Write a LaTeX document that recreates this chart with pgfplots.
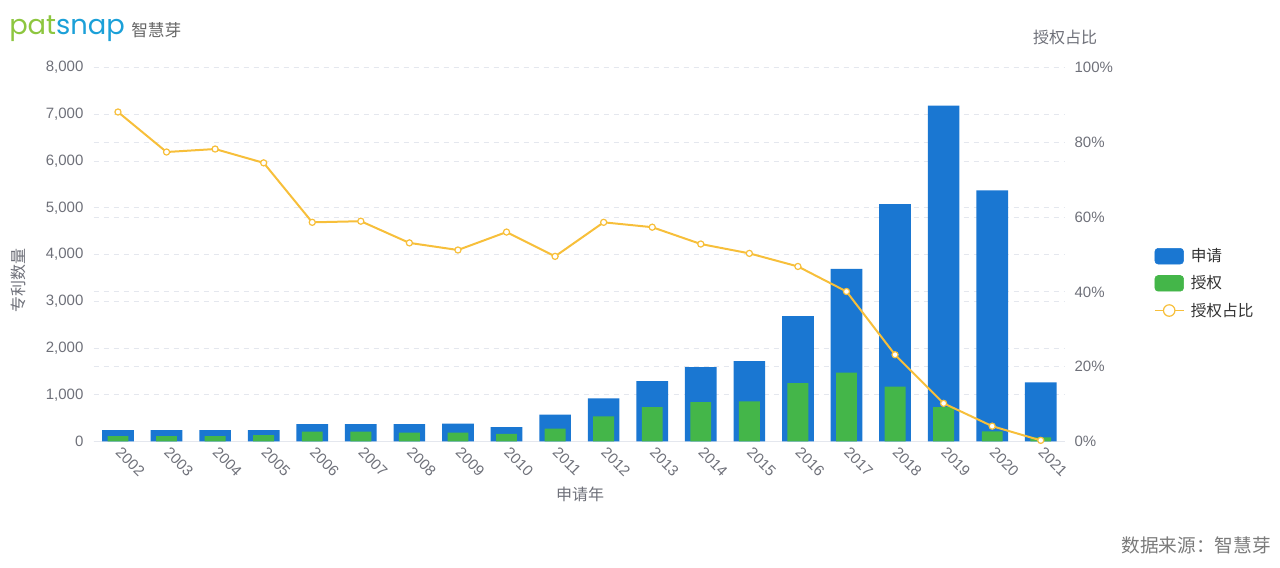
\documentclass[border=0pt]{standalone}
\usepackage{fontspec}
\setmainfont{Liberation Sans}
\newfontfamily\cjk{Noto Sans CJK SC}
\newfontfamily\logofont{Poppins}
\usepackage{pgfplots}
\usepackage{pgfplotstable}
\pgfplotsset{compat=1.18}

\definecolor{appblue}{HTML}{1A77D2}
\definecolor{grantgreen}{HTML}{44B649}
\definecolor{ratioyellow}{HTML}{F7BF3A}
\definecolor{txtgray}{HTML}{6E7079}
\definecolor{gridgray}{HTML}{E4E7EE}
\definecolor{legtext}{HTML}{333333}
\definecolor{footgray}{HTML}{7A7A7A}
\definecolor{logogreen}{HTML}{8DC63F}
\definecolor{logoblue}{HTML}{1BA0D8}
\definecolor{logogray}{HTML}{666666}

\pgfplotstableread{
year app grant ratio
2002 245 115 88.1
2003 245 115 77.4
2004 245 115 78.2
2005 245 135 74.5
2006 370 210 58.6
2007 370 210 58.9
2008 370 190 53.1
2009 380 190 51.2
2010 310 165 56.0
2011 575 275 49.5
2012 925 535 58.6
2013 1290 735 57.3
2014 1590 840 52.8
2015 1720 860 50.3
2016 2680 1250 46.8
2017 3695 1475 40.1
2018 5075 1175 23.2
2019 7185 735 10.2
2020 5370 215 4.1
2021 1265 90 0.3
}\datatable

\pgfplotsset{
  common/.style={
    at={(70.275pt,94.125pt)}, anchor=south west,
    scale only axis, width=728.5pt, height=280.5pt,
    xmin=2001.5, xmax=2021.5, enlargelimits=false,
    /pgf/number format/assume math mode=true,
    major tick length=0pt, tick style={draw=none},
    ymajorgrids, major grid style={gridgray, line width=0.6pt, dash pattern=on 4pt off 3.5pt},
    tick label style={font=\fontsize{11.25}{13}\selectfont, text=txtgray},
  }
}

\begin{document}
\begin{tikzpicture}[x=0.75pt,y=0.75pt]
\useasboundingbox (0,0) rectangle (1280,567);

% right axis: grid and percentage labels (drawn first, behind the bars)
\begin{axis}[common,
  ymin=0, ymax=100, ytick distance=20,
  axis y line*=right, axis x line=none,
  y axis line style={draw=none},
  yticklabel={\pgfmathprintnumber{\tick}\%},
  yticklabel style={anchor=west, inner sep=0pt, xshift=7pt},
]
\end{axis}

% left axis: bars
\begin{axis}[common,
  ymin=0, ymax=8000, ytick distance=1000, scaled y ticks=false,
  axis x line*=bottom, axis y line*=left,
  x axis line style={draw=gridgray, line width=0.75pt, -},
  y axis line style={draw=none},
  xtick={2002,...,2021},
  xticklabel style={/pgf/number format/1000 sep=, xshift=3.2pt, yshift=-3.5pt, rotate=-45, anchor=north west, inner sep=0pt},
  yticklabel style={anchor=east, inner sep=0pt, xshift=-7.5pt},
]
\addplot[ybar, bar width=0.652, bar shift=0pt, fill=appblue, draw=none] table[x=year, y=app] {\datatable};
\addplot[ybar, bar width=0.43, bar shift=0pt, fill=grantgreen, draw=none] table[x=year, y=grant] {\datatable};
\end{axis}

% ratio line on top, with the legend
\begin{axis}[common,
  ymin=0, ymax=100, hide axis,
  legend style={at={(axis description cs:1.0916,0.52)}, anchor=north west,
    draw=none, fill=none, inner sep=0pt, row sep=7pt, column sep=4pt,
    font=\cjk\fontsize{11.75}{14}\selectfont,
    nodes={text=legtext, inner sep=1pt}},
  legend cell align=left,
]
\addlegendimage{legend image code/.code={\fill[appblue, rounded corners=2.5pt] (0pt,-5.9pt) rectangle (21.5pt,5.9pt);}}
\addlegendentry{申请}
\addlegendimage{legend image code/.code={\fill[grantgreen, rounded corners=2.5pt] (0pt,-5.9pt) rectangle (21.5pt,5.9pt);}}
\addlegendentry{授权}
\addlegendimage{legend image code/.code={\draw[ratioyellow, line width=0.9pt] (0pt,0pt) -- (21.5pt,0pt); \draw[ratioyellow, line width=0.9pt, fill=white] (10.75pt,0pt) circle (4.3pt);}}
\addlegendentry{授权占比}
\addplot[ratioyellow, line width=1.5pt, mark=*, mark size=2.3pt, mark options={fill=white, draw=ratioyellow, line width=0.9pt}] table[x=year, y=ratio] {\datatable};
\end{axis}

% titles and labels
\node[anchor=base west, inner sep=0pt] at (9,532) {\logofont\fontsize{20.5}{23}\selectfont\textcolor{logogreen}{pat}\textcolor{logoblue}{snap}};
\node[anchor=west, inner sep=0pt, text=logogray] at (131,537) {\cjk\fontsize{12.5}{14}\selectfont 智慧芽};
\node[rotate=90, text=txtgray, inner sep=0pt] at (18,286) {\cjk\fontsize{12}{14}\selectfont 专利数量};
\node[text=txtgray, inner sep=0pt] at (580,73) {\cjk\fontsize{12}{14}\selectfont 申请年};
\node[text=txtgray, inner sep=0pt] at (1065,530) {\cjk\fontsize{12}{14}\selectfont 授权占比};
\node[anchor=east, text=footgray, inner sep=0pt] at (1271,22) {\cjk\fontsize{14}{16}\selectfont 数据来源：智慧芽};
\end{tikzpicture}
\end{document}
